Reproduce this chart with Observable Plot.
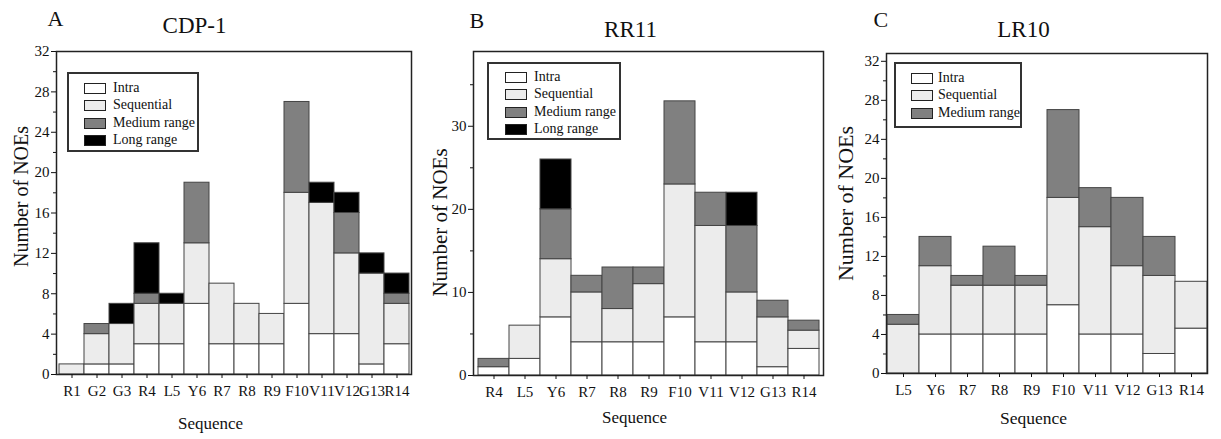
<!DOCTYPE html>
<html><head><meta charset="utf-8">
<script src="https://cdn.jsdelivr.net/npm/d3@7"></script>
<script src="https://cdn.jsdelivr.net/npm/@observablehq/plot@0.6"></script>
<style>
body{margin:0;background:#fff;font-family:"Liberation Serif","Times New Roman",serif;}
#wrap{position:relative;width:1221px;height:439px;overflow:hidden;background:#fff;}
#wrap svg, #wrap svg text{font-family:"Liberation Serif","Times New Roman",serif !important;}
.panel{position:absolute;top:0;}
.legend{position:absolute;border:2px solid #333;box-sizing:border-box;background:#fff;}
.sw{position:absolute;width:22px;height:11px;border:1.5px solid #222;box-sizing:border-box;}
.lt{position:absolute;font-size:14px;line-height:14px;color:#111;white-space:nowrap;}
</style></head>
<body><div id="wrap"></div>
<script>
const types = ["Intra","Sequential","Medium range","Long range"];
const colors = ["#ffffff","#ececec","#808080","#000000"];

// Panel A: CDP-1
const A_res = ["R1","G2","G3","R4","L5","Y6","R7","R8","R9","F10","V11","V12","G13","R14"];
const A_intra = [0,1,1,3,3,7,3,3,3,7,4,4,1,3];
const A_seq   = [1,3,4,4,4,6,6,4,3,11,13,8,9,4];
const A_med   = [0,1,0,1,0,6,0,0,0,9,0,4,0,1];
const A_long  = [0,0,2,5,1,0,0,0,0,0,2,2,2,2];
const A_major = [0,4,8,12,16,20,24,28,32];
const A_minor = [2,6,10,14,18,22,26,30];

// Panel B: RR11
const B_res = ["R4","L5","Y6","R7","R8","R9","F10","V11","V12","G13","R14"];
const B_intra = [1,2,7,4,4,4,7,4,4,1,3.2];
const B_seq   = [0,4,7,6,4,7,16,14,6,6,2.2];
const B_med   = [1,0,6,2,5,2,10,4,8,2,1.2];
const B_long  = [0,0,6,0,0,0,0,0,4,0,0];
const B_major = [0,10,20,30];
const B_minor = [5,15,25,35];

// Panel C: LR10
const C_res = ["L5","Y6","R7","R8","R9","F10","V11","V12","G13","R14"];
const C_intra = [0,4,4,4,4,7,4,4,2,4.6];
const C_seq   = [5,7,5,5,5,11,11,7,8,4.8];
const C_med   = [1,3,1,4,1,9,4,7,4,0];
const C_major = [0,4,8,12,16,20,24,28,32];
const C_minor = [2,6,10,14,18,22,26,30];

const FONT = "Liberation Serif";

const panels = [
  {left:0, width:420, mL:56, mR:9, mT:51, mB:65, res:A_res, series:[A_intra,A_seq,A_med,A_long], ymax:32,
   major:A_major, minor:A_minor, letter:"A", title:"CDP-1",
   letterPos:[-9,-26], titlePos:[138,-19], ylab:[-35,-16.5,20], xlab:[154,54,17],
   legend:{left:67, top:72, w:132, h:80, sw:84, tx:113, y0:88, n:4}},
  {left:420, width:410, mL:53, mR:7, mT:51, mB:64, res:B_res, series:[B_intra,B_seq,B_med,B_long], ymax:39,
   major:B_major, minor:B_minor, letter:"B", title:"RR11",
   letterPos:[-4,-24], titlePos:[157,-15], ylab:[-33,9,21], xlab:[161,47,17],
   legend:{left:487, top:62, w:134, h:78, sw:505, tx:534, y0:77, n:4}},
  {left:830, width:391, mL:56, mR:14, mT:53, mB:66, res:C_res, series:[C_intra,C_seq,C_med], ymax:32.8,
   major:C_major, minor:C_minor, letter:"C", title:"LR10",
   letterPos:[-13,-27], titlePos:[137,-17], ylab:[-41,-10,22], xlab:[147,50,17.5],
   legend:{left:894, top:62, w:128, h:66, sw:911, tx:938, y0:78, n:3}}
];

const wrap = document.getElementById("wrap");

for (const p of panels) {
  const rows = [];
  p.res.forEach((r, i) => p.series.forEach((s, k) => { if (s[i] > 0) rows.push({res:r, type:types[k], n:s[i]}); }));
  const chart = Plot.plot({
    width: p.width, height: 439,
    marginLeft: p.mL, marginRight: p.mR, marginTop: p.mT, marginBottom: p.mB,
    style: {fontFamily: FONT, fontSize: "15px", color: "#111", background: "transparent", overflow: "visible"},
    x: {domain: p.res, padding: 0, label: null},
    y: {domain: [0, p.ymax], label: null},
    color: {domain: types, range: colors},
    marks: [
      Plot.barY(rows, {x: "res", y: "n", fill: "type", order: types, stroke: "#444", strokeWidth: 1}),
      Plot.frame({stroke: "#222", strokeWidth: 1.5}),
      Plot.axisX({tickSize: 4, tickPadding: 7, fontSize: 15, fontFamily: FONT, label: null}),
      Plot.axisY({ticks: p.major, tickSize: 5, tickPadding: 2, fontSize: 15, fontFamily: FONT, label: null}),
      Plot.axisY({ticks: p.minor, tickSize: 3, tickFormat: () => "", label: null}),
      Plot.text([p.letter], {text: d => d, frameAnchor: "top-left", textAnchor: "start", lineAnchor: "bottom",
        dx: p.letterPos[0], dy: p.letterPos[1], fontSize: 22, fontFamily: FONT}),
      Plot.text([p.title], {text: d => d, frameAnchor: "top-left", textAnchor: "middle", lineAnchor: "bottom",
        dx: p.titlePos[0], dy: p.titlePos[1], fontSize: 23, fontFamily: FONT}),
      Plot.text(["Number of NOEs"], {text: d => d, frameAnchor: "left", rotate: -90, textAnchor: "middle", lineAnchor: "middle",
        dx: p.ylab[0], dy: p.ylab[1], fontSize: p.ylab[2], fontFamily: FONT}),
      Plot.text(["Sequence"], {text: d => d, frameAnchor: "bottom-left", textAnchor: "middle", lineAnchor: "bottom",
        dx: p.xlab[0], dy: p.xlab[1], fontSize: p.xlab[2], fontFamily: FONT})
    ]
  });
  const div = document.createElement("div");
  div.className = "panel";
  div.style.left = p.left + "px";
  div.appendChild(chart);
  wrap.appendChild(div);

  // legend
  const L = p.legend;
  const box = document.createElement("div");
  box.className = "legend";
  Object.assign(box.style, {left: L.left + "px", top: L.top + "px", width: L.w + "px", height: L.h + "px"});
  wrap.appendChild(box);
  for (let k = 0; k < L.n; k++) {
    const cy = L.y0 + k * 17.5;
    const sw = document.createElement("div");
    sw.className = "sw";
    Object.assign(sw.style, {left: L.sw + "px", top: (cy - 5.5) + "px", background: colors[k]});
    wrap.appendChild(sw);
    const t = document.createElement("div");
    t.className = "lt";
    Object.assign(t.style, {left: L.tx + "px", top: (cy - 7.5) + "px"});
    t.textContent = types[k];
    wrap.appendChild(t);
  }
}
</script></body></html>
